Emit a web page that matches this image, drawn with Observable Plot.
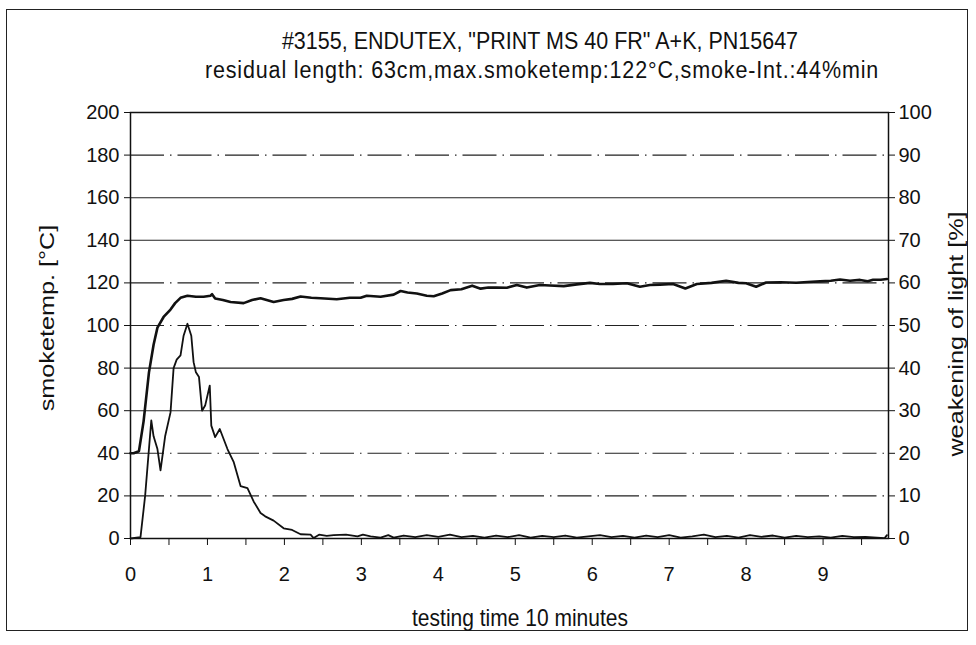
<!DOCTYPE html>
<html>
<head>
<meta charset="utf-8">
<script src="https://cdn.jsdelivr.net/npm/d3@7"></script>
<script src="https://cdn.jsdelivr.net/npm/@observablehq/plot@0.6"></script>
<style>
  html, body { margin: 0; padding: 0; background: #fff; }
  #wrap { position: relative; width: 976px; height: 645px; font-family: "Liberation Sans", Arial, sans-serif; color: #111; overflow: hidden; }
  #border { position: absolute; left: 6px; top: 9px; width: 962px; height: 622px; border: 1.2px solid #222; box-sizing: border-box; }
  .t { position: absolute; white-space: nowrap; font-size: 21px; line-height: 1; }
  #chart { position: absolute; left: 0; top: 0; }
</style>
</head>
<body>
<div id="wrap">
  <div id="border"></div>
  <div id="chart"></div>
  <div class="t" id="title" style="left:540px; top:31px; font-size:21.5px; transform:translateX(-50%) scaleY(1.15);">#3155, ENDUTEX, "PRINT MS 40 FR" A+K, PN15647</div>
  <div class="t" id="sub" style="left:542px; top:60px; font-size:21.5px; letter-spacing:0.85px; transform:translateX(-50%) scaleY(1.15);">residual length: 63cm,max.smoketemp:122°C,smoke-Int.:44%min</div>
  <div class="t" id="ylab" style="left:46px; top:318px; transform:translate(-50%,-50%) rotate(-90deg) scaleX(1.2);">smoketemp. [°C]</div>
  <div class="t" id="y2lab" style="left:955px; top:334px; transform:translate(-50%,-50%) rotate(-90deg) scaleX(1.2);">weakening of light [%]</div>
  <div class="t" id="xlab" style="left:520px; top:607px; transform:translateX(-50%) scaleY(1.15);">testing time 10 minutes</div>
</div>
<script>
// smoke temperature [°C] (left axis)
const tempTime = [0,0.04,0.11,0.17,0.24,0.30,0.35,0.43,0.52,0.58,0.65,0.74,0.85,0.95,1.04,1.06,1.10,1.20,1.30,1.47,1.58,1.69,1.86,1.99,2.10,2.21,2.35,2.47,2.68,2.85,2.99,3.07,3.25,3.42,3.51,3.60,3.72,3.85,3.94,4.05,4.16,4.30,4.44,4.55,4.65,4.76,4.89,5.02,5.15,5.32,5.45,5.63,5.80,5.97,6.10,6.27,6.45,6.62,6.75,6.88,7.05,7.21,7.36,7.55,7.74,7.90,8.00,8.13,8.26,8.45,8.65,8.80,8.96,9.10,9.22,9.35,9.48,9.58,9.65,9.75,9.83];
const tempValue = [40,40,41,55,78,91,99,104,107.5,110.5,113,114,113.5,113.5,114,114.7,112.7,112,111,110.5,112,112.8,111,112,112.5,113.6,113,112.8,112.3,113,113,114,113.5,114.5,116.2,115.5,115,114,113.7,115,116.6,117,118.7,117.3,117.8,117.8,117.7,119,117.8,119,118.8,118.5,119.3,120,119.5,119.5,119.8,118.2,119,119.2,119.5,117.4,119.5,120,121,120,119.8,118.2,120.2,120.3,120.1,120.4,120.7,121,121.6,121,121.4,120.8,121.5,121.5,121.8];

// weakening of light [%] (right axis)
const smokeTime = [0,0.13,0.19,0.27,0.30,0.35,0.39,0.45,0.52,0.56,0.60,0.65,0.69,0.74,0.79,0.82,0.85,0.89,0.93,0.97,1.03,1.05,1.10,1.16,1.26,1.34,1.43,1.52,1.60,1.69,1.75,1.86,1.99,2.10,2.21,2.34,2.38,2.45,2.55,2.64,2.80,2.95,3.02,3.12,3.25,3.35,3.42,3.55,3.70,3.85,4.00,4.15,4.30,4.45,4.60,4.75,4.90,5.05,5.20,5.35,5.50,5.65,5.80,5.95,6.10,6.25,6.40,6.55,6.70,6.85,7.00,7.15,7.30,7.45,7.60,7.75,7.90,8.05,8.20,8.35,8.50,8.65,8.80,8.95,9.10,9.25,9.40,9.55,9.70,9.80,9.83];
const smokeValue = [0,0.3,10,27.7,24,21,16,24,29.6,40,42,43,47.6,50.4,47.6,41.4,39,37.9,30,31.2,35.9,26.5,23.8,25.7,21,18,12.3,11.8,8.7,6,5.2,4.2,2.4,2,1,0.9,0.1,0.9,0.6,0.8,0.9,0.5,0.9,0.5,0.2,0.8,0.2,0.7,0.3,0.8,0.4,0.9,0.3,0.6,0.2,0.7,0.3,0.8,0.2,0.6,0.3,0.7,0.2,0.5,0.8,0.3,0.6,0.2,0.7,0.3,0.8,0.2,0.5,0.9,0.3,0.6,0.2,0.8,0.4,0.7,0.2,0.6,0.3,0.5,0.2,0.6,0.3,0.4,0.2,0.1,0.8];

const yTicks = [0,20,40,60,80,100,120,140,160,180,200];
const y2Ticks = [0,10,20,30,40,50,60,70,80,90,100];
const solidGrid = [60,80,140,160];
const dashedGrid = [20,40,100,120,180];
const xTickLabels = [0,1,2,3,4,5,6,7,8,9];
const xMinorTicks = [0,0.5,1,1.5,2,2.5,3,3.5,4,4.5,5,5.5,6,6.5,7,7.5,8,8.5,9,9.5];

const temp = tempTime.map((t, i) => ({t, v: tempValue[i]}));
const smoke = smokeTime.map((t, i) => ({t, v: smokeValue[i] * 2}));

const chart = Plot.plot({
  width: 976,
  height: 645,
  marginLeft: 130,
  marginRight: 88,
  marginTop: 112,
  marginBottom: 107,
  style: {fontFamily: '"Liberation Sans", Arial, sans-serif', fontSize: "20px", color: "#111", background: "transparent"},
  x: {domain: [0, 9.85]},
  y: {domain: [0, 200]},
  marks: [
    Plot.ruleY(solidGrid, {stroke: "#222", strokeWidth: 1.1}),
    Plot.ruleY(dashedGrid, {stroke: "#222", strokeWidth: 1.1, strokeDasharray: "34,6,1.5,6"}),
    Plot.frame({stroke: "#111", strokeWidth: 1.5}),
    Plot.axisY(yTicks, {anchor: "left", tickSize: 6, tickPadding: 5, label: null, fontSize: 20}),
    Plot.axisY(y2Ticks.map(d => d * 2), {anchor: "right", tickSize: 6, tickPadding: 4, tickFormat: d => d / 2, label: null, fontSize: 20}),
    Plot.axisX(xMinorTicks, {anchor: "bottom", tickSize: 7, tickPadding: 21, tickFormat: d => xTickLabels.includes(d) ? d : "", label: null, fontSize: 20}),
    Plot.line(smoke, {x: "t", y: "v", stroke: "#111", strokeWidth: 1.8}),
    Plot.line(temp, {x: "t", y: "v", stroke: "#111", strokeWidth: 2.6})
  ]
});
document.getElementById("chart").appendChild(chart);
</script>
</body>
</html>
